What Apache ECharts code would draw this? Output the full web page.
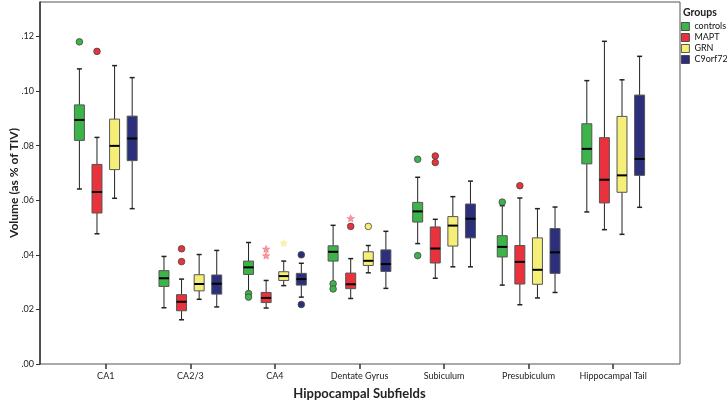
<!DOCTYPE html>
<html>
<head>
<meta charset="utf-8">
<script src="https://cdn.jsdelivr.net/npm/echarts@6/dist/echarts.min.js"></script>
<style>html,body{margin:0;padding:0;background:#fff}#c{width:727px;height:402px}</style>
</head>
<body>
<div id="c"></div>
<script>
const categories = ['CA1','CA2/3','CA4','Dentate Gyrus','Subiculum','Presubiculum','Hippocampal Tail'];
const groups = ['controls','MAPT','GRN','C9orf72'];
const yTicks = [0, 0.02, 0.04, 0.06, 0.08, 0.10, 0.12];

// [min, Q1, median, Q3, max] per category
const controlsBox = [
  [.0641,.0819,.0894,.0949,.1081],
  [.0206,.0284,.0314,.0342,.0394],
  [.0265,.0328,.0354,.0377,.0445],
  [.0300,.0377,.0411,.0433,.0508],
  [.0441,.0520,.0559,.0592,.0684],
  [.0289,.0392,.0429,.0470,.0580],
  [.0557,.0733,.0788,.0880,.1038]
];
const maptBox = [
  [.0477,.0553,.0630,.0731,.0830],
  [.0162,.0195,.0228,.0254,.0311],
  [.0205,.0225,.0242,.0262,.0306],
  [.0240,.0276,.0292,.0333,.0386],
  [.0314,.0370,.0423,.0502,.0530],
  [.0217,.0293,.0374,.0434,.0608],
  [.0492,.0590,.0675,.0829,.1182]
];
const grnBox = [
  [.0607,.0712,.0799,.0897,.1093],
  [.0237,.0268,.0293,.0327,.0401],
  [.0287,.0306,.0322,.0338,.0377],
  [.0334,.0361,.0378,.0411,.0434],
  [.0356,.0432,.0507,.0540,.0613],
  [.0242,.0292,.0345,.0462,.0569],
  [.0475,.0629,.0691,.0907,.1041]
];
const c9Box = [
  [.0569,.0745,.0826,.0908,.1049],
  [.0209,.0256,.0294,.0326,.0416],
  [.0245,.0289,.0311,.0332,.0369],
  [.0277,.0339,.0366,.0418,.0486],
  [.0356,.0462,.0532,.0586,.0670],
  [.0262,.0332,.0409,.0496,.0575],
  [.0574,.0691,.0751,.0985,.1127]
];

// outliers: [categoryIndex, value]
const controlsOut = [[0,.1180],[2,.0258],[2,.0245],[3,.0294],[3,.0275],[4,.0750],[4,.0397],[5,.0593]];
const maptOut = [[0,.1145],[1,.0422],[1,.0375],[3,.0504],[4,.0762],[4,.0738],[5,.0653]];
const grnOut = [[3,.0504]];
const c9Out = [[2,.0400],[2,.0218]];

// extremes (asterisks): [categoryIndex, value]
const controlsExt = [];
const maptExt = [[2,.0420],[2,.0396],[3,.0532]];
const grnExt = [[2,.0442]];
const c9Ext = [];

const colors = ['#3db44a','#e9323c','#f5ef78','#2b2f7c'];
const extColors = ['#3db44a','#f06a72','#f3ee8e','#2b2f7c'];

const boxes = [controlsBox, maptBox, grnBox, c9Box];
const outs = [controlsOut, maptOut, grnOut, c9Out];
const exts = [controlsExt, maptExt, grnExt, c9Ext];

const Y_MAX = 0.1326;

function offsetFor(gi, band) { return (gi - 1.5) * band * 0.208; }

function boxRender(gi) {
  return function (params, api) {
    const cat = api.value(0);
    const band = api.size([1, 0])[0];
    const bw = band * 0.118;
    const cx = api.coord([cat, 0])[0] + offsetFor(gi, band);
    const y = i => api.coord([cat, api.value(i)])[1];
    const yMin = y(1), yQ1 = y(2), yMed = y(3), yQ3 = y(4), yMax = y(5);
    const cap = 5;
    const wl = { stroke: '#222', lineWidth: 1 };
    return {
      type: 'group',
      children: [
        { type: 'line', shape: { x1: cx, y1: yMax, x2: cx, y2: yQ3 }, style: wl },
        { type: 'line', shape: { x1: cx, y1: yQ1, x2: cx, y2: yMin }, style: wl },
        { type: 'line', shape: { x1: cx - cap / 2, y1: yMax, x2: cx + cap / 2, y2: yMax }, style: { stroke: '#222', lineWidth: 1.5 } },
        { type: 'line', shape: { x1: cx - cap / 2, y1: yMin, x2: cx + cap / 2, y2: yMin }, style: { stroke: '#222', lineWidth: 1.5 } },
        { type: 'rect', shape: { x: cx - bw / 2, y: yQ3, width: bw, height: yQ1 - yQ3 }, style: { fill: colors[gi], stroke: '#555', lineWidth: 1 } },
        { type: 'line', shape: { x1: cx - bw / 2, y1: yMed, x2: cx + bw / 2, y2: yMed }, style: { stroke: '#000', lineWidth: 2 } }
      ]
    };
  };
}

function outRender(gi) {
  return function (params, api) {
    const cat = api.value(0);
    const band = api.size([1, 0])[0];
    const p = api.coord([cat, api.value(1)]);
    return {
      type: 'circle',
      shape: { cx: p[0] + offsetFor(gi, band), cy: p[1], r: 3.3 },
      style: { fill: colors[gi], stroke: '#444', lineWidth: 0.8 }
    };
  };
}

function starPoints(cx, cy, R, r) {
  const pts = [];
  for (let k = 0; k < 10; k++) {
    const a = -Math.PI / 2 + k * Math.PI / 5;
    const rad = k % 2 === 0 ? R : r;
    pts.push([cx + rad * Math.cos(a), cy + rad * Math.sin(a)]);
  }
  return pts;
}

function extRender(gi) {
  return function (params, api) {
    const cat = api.value(0);
    const band = api.size([1, 0])[0];
    const p = api.coord([cat, api.value(1)]);
    return {
      type: 'polygon',
      shape: { points: starPoints(p[0] + offsetFor(gi, band), p[1], 4, 1.8) },
      style: { fill: extColors[gi], opacity: 0.7, stroke: extColors[gi], lineWidth: 0.6 }
    };
  };
}

const series = [];
groups.forEach((g, gi) => {
  series.push({
    name: g, type: 'custom', xAxisIndex: 1, yAxisIndex: 1,
    itemStyle: { color: colors[gi] },
    renderItem: boxRender(gi),
    encode: { x: 0, y: [1, 2, 3, 4, 5] },
    data: boxes[gi].map((b, i) => [i].concat(b)),
    z: 3
  });
  series.push({
    name: g, type: 'custom', xAxisIndex: 1, yAxisIndex: 1,
    itemStyle: { color: colors[gi] },
    renderItem: outRender(gi),
    encode: { x: 0, y: 1 },
    data: outs[gi],
    z: 4
  });
  if (exts[gi].length) {
    series.push({
      name: g, type: 'custom', xAxisIndex: 1, yAxisIndex: 1,
      itemStyle: { color: colors[gi] },
      renderItem: extRender(gi),
      encode: { x: 0, y: 1 },
      data: exts[gi],
      z: 4
    });
  }
});

const FONT = 'Lato';
const chart = echarts.init(document.getElementById('c'), null, { renderer: 'canvas' });
chart.setOption({
  animation: false,
  backgroundColor: '#fff',
  textStyle: { fontFamily: FONT },
  grid: [
    { left: 40, right: 47, top: 2, bottom: 38, show: true, borderColor: '#555', borderWidth: 1, containLabel: false, outerBoundsMode: 'none' },
    { left: 63.5, right: 71.5, top: 2, bottom: 38, containLabel: false, outerBoundsMode: 'none' }
  ],
  xAxis: [
    { type: 'value', gridIndex: 0, min: 0, max: 1, show: false },
    {
      type: 'category', gridIndex: 1, data: categories, boundaryGap: true,
      axisLine: { show: false },
      axisTick: { show: true, alignWithLabel: true, interval: 0, length: 5, lineStyle: { color: '#333', width: 1.5 } },
      axisLabel: { fontSize: 9, color: '#222', margin: 8, interval: 0, fontFamily: FONT },
      name: 'Hippocampal Subfields', nameLocation: 'middle', nameGap: 23, nameMoveOverlap: false,
      nameTextStyle: { fontSize: 13, fontWeight: 'bold', color: '#222', fontFamily: FONT }
    }
  ],
  yAxis: [
    {
      type: 'value', gridIndex: 0, min: 0, max: Y_MAX,
      splitLine: { show: false },
      axisLine: { show: true, lineStyle: { color: '#333', width: 1.5 } },
      axisTick: { show: true, length: 4, customValues: yTicks, lineStyle: { color: '#333' } },
      axisLabel: {
        fontSize: 9, color: '#222', margin: 6, customValues: yTicks, fontFamily: FONT,
        formatter: v => v.toFixed(2).replace(/^0\./, '.')
      },
      name: 'Volume (as % of TIV)', nameLocation: 'middle', nameGap: 20, nameRotate: 90, nameMoveOverlap: false,
      nameTextStyle: { fontSize: 12, fontWeight: 'bold', color: '#222', fontFamily: FONT }
    },
    { type: 'value', gridIndex: 1, min: 0, max: Y_MAX, show: false }
  ],
  title: {
    text: 'Groups', left: 683, top: 7, padding: 0,
    textStyle: { fontSize: 10.5, fontWeight: 'bold', color: '#222', fontFamily: FONT }
  },
  legend: {
    orient: 'vertical', left: 681, top: 22, padding: 0, itemWidth: 8, itemHeight: 8, itemGap: 2,
    icon: 'rect', selectedMode: false,
    textStyle: { fontSize: 9, color: '#111', fontFamily: FONT },
    data: groups.map((g, gi) => ({ name: g, itemStyle: { color: colors[gi], borderColor: '#333', borderWidth: 0.8 } }))
  },
  series: series
});
</script>
</body>
</html>
